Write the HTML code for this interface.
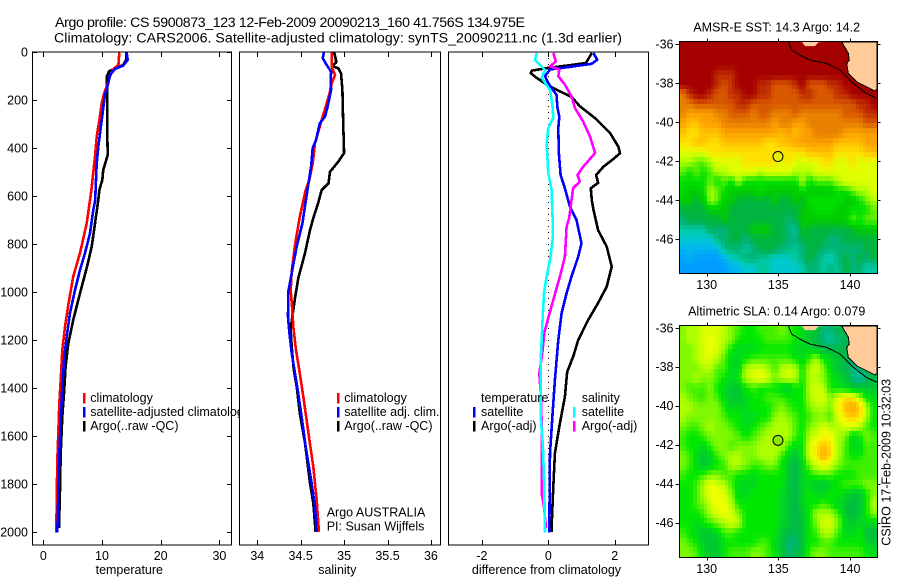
<!DOCTYPE html>
<html>
<head>
<meta charset="utf-8">
<title>Argo profile chart</title>
<style>
html,body{margin:0;padding:0;background:#fff;width:900px;height:580px;overflow:hidden}
svg{display:block}
text{font-family:"Liberation Sans",sans-serif;font-size:12.5px;fill:#000}
</style>
</head>
<body>
<svg id="chart" width="900" height="580" viewBox="0 0 900 580" xmlns="http://www.w3.org/2000/svg"></svg>
<script>
// ---- Tick labels ----
const depthTicks = [0,200,400,600,800,1000,1200,1400,1600,1800,2000];
const tempTicks = [0,10,20,30];
const salTicks = [34,34.5,35,35.5,36];
const salTickLabels = ['34','34.5','35','35.5','36'];
const diffTicks = [-2,0,2];
const lonTicks = [130,135,140];
const latTicks = [-36,-38,-40,-42,-44,-46];

// ---- Temperature panel ----
const tempClimDepth = [3,54,72,100,137,172,214,283,353,436,505,575,714,838,936,1054,1145,1242,1367,1463,1589,1700,1879,2002];
const tempClimValue = [12.95,12.8,11.9,11.4,10.9,10.35,9.95,9.55,9.1,8.8,8.5,8.2,7.4,6.25,5.1,4.26,3.7,3.24,2.96,2.73,2.56,2.39,2.28,2.22];
const tempSatDepth = [3,33,57,71,96,130,179,255,395,464,533,617,658,755,838,908,992,1088,1186,1269,1394,1519,1673,1840,2002];
const tempSatValue = [14.2,14.38,13.6,12.2,11.36,11.08,10.5,10.1,9.37,9.1,8.97,8.85,8.52,7.96,7.1,6.25,5.4,4.55,3.98,3.58,3.24,3.0,2.73,2.56,2.39];
const tempArgoDepth = [3,33,54,71,79,103,200,338,429,492,533,575,617,714,811,900,1005,1117,1214,1311,1422,1519,1673,1825,1983];
const tempArgoValue = [14.1,14.1,13.6,12.2,11.24,10.8,10.9,10.9,10.97,10.2,10.05,9.55,9.37,8.8,8.24,7.4,6.25,5.1,4.26,3.8,3.53,3.24,2.96,2.84,2.67];

// ---- Salinity panel ----
const salClimDepth = [1,61,96,130,165,214,283,380,464,533,575,686,804,914,992,1075,1145,1242,1325,1436,1589,1728,1867,1999];
const salClimValue = [34.857,34.857,34.895,34.857,34.838,34.8,34.742,34.665,34.638,34.6,34.558,34.49,34.434,34.396,34.385,34.403,34.415,34.446,34.484,34.53,34.59,34.645,34.684,34.71];
const salSatDepth = [0,26,54,82,124,158,228,269,297,367,400,478,547,617,714,811,908,999,1103,1171,1255,1339,1394,1519,1645,1783,1895,1999];
const salSatValue = [34.768,34.753,34.8,34.85,34.845,34.85,34.81,34.78,34.72,34.676,34.638,34.62,34.59,34.56,34.52,34.454,34.403,34.357,34.354,34.37,34.396,34.434,34.46,34.51,34.558,34.62,34.665,34.684];
const salArgoDepth = [0,33,45,58,68,88,158,297,421,457,499,547,575,630,692,742,838,942,1025,1103,1158,1228,1325,1394,1505,1630,1796,1880,1999];
const salArgoValue = [34.884,34.907,34.907,34.857,34.933,34.964,34.98,34.99,35.0,34.933,34.838,34.82,34.742,34.7,34.645,34.607,34.55,34.472,34.434,34.403,34.385,34.396,34.42,34.454,34.49,34.55,34.607,34.645,34.672];

// ---- Difference panel ----
const diffTempArgoDepth = [4,46,55,67,78,88,108,136,164,187,226,276,338,395,422,446,478,513,545,568,617,658,742,811,894,978,1046,1117,1200,1269,1332,1436,1561,1673,1811,1978,2000];
const diffTempArgoValue = [1.31,1.135,0.65,-0.05,-0.5,-0.53,-0.35,-0.05,0.35,0.7,0.95,1.41,1.86,2.11,2.16,1.96,1.66,1.44,1.5,1.28,1.31,1.36,1.5,1.76,1.91,1.76,1.5,1.2,0.9,0.75,0.57,0.5,0.33,0.2,0.15,0.1,0.1];
const diffTempSatDepth = [4,32,49,62,73,101,130,179,228,269,318,422,513,568,644,700,797,853,936,1005,1088,1200,1283,1367,1505,1673,2002];
const diffTempSatValue = [1.355,1.476,1.31,0.65,0.05,-0.1,0,0.25,0.27,0.33,0.3,0.32,0.37,0.5,0.65,0.85,1.0,0.9,0.7,0.55,0.4,0.3,0.25,0.2,0.13,0.05,0.03];
const diffSalArgoDepth = [4,39,60,73,101,136,185,233,290,353,421,478,513,540,567,617,692,728,853,936,1033,1108,1171,1255,1339,1436,1561,1700,1840,1895,1983];
const diffSalArgoValue = [0.15,0.23,0.05,0.33,0.3,0.5,0.7,0.8,1.05,1.26,1.41,1.05,0.88,0.95,0.75,0.7,0.63,0.55,0.5,0.35,0.15,0,-0.12,-0.18,-0.27,-0.22,-0.2,-0.2,-0.2,-0.13,-0.07];
const diffSalSatDepth = [4,33,75,108,158,228,275,317,380,505,575,692,783,867,936,1005,1103,1200,1283,1519,1630,1769,2002];
const diffSalSatValue = [-0.35,-0.4,-0.1,-0.2,0.05,0.13,0.15,0,-0.05,0,0.1,0.13,0.13,0.05,-0.05,-0.13,-0.17,-0.2,-0.23,-0.23,-0.17,-0.13,-0.1];

// ---- Map grids: one level code per cell (base 36), north to south ----
const sstGrid = [
"0000000000000000000000000000",
"0000000000000000000000000000",
"0000000000000000000000000000",
"0000011100000000000000000000",
"0000012100011222102221100000",
"3100122110011222211222110000",
"3322222211222222222222222110",
"3444433222322333233333322211",
"4554443333333433443333333322",
"5665554444444454544333344444",
"6655665555556655444444555544",
"7777666666666666665555666655",
"8899877776666676777766776777",
"9A9A988777787777888777777777",
"AAAA9A9A8AAAAAAAA8A999877777",
"ABBA89ABBBBABBBBBABBBBAA9887",
"BBCB89BBCCCCCBCCBCAAAAABBA98",
"CCCCBBBCCCCCCCCCCBBAAABBAAA9",
"DCCCCCBCCCCCCCCDCBBBBBBB9A99",
"EEEECDDCCCBBBCCDEBCCCCCCCBBB",
"FFFFFDDCCDCCCCCDDCCCCDDCCCCC",
"GGGGGGDDDEDCCCDDEDCCDDDDDDCC",
"HGHHHHGFEDDEEFFFEDCDEFDCDCDC",
"HHHHHHHGGFFEEFFFFEDDEDECDDEE"
];
const slaGrid = [
"7889998765566676543311222222",
"7889A98755556666543210122222",
"7789A97544455555444322222222",
"7789986445666666546854321122",
"7778866448998689858974321123",
"77877654589A9789858875431012",
"7666754335655543558985543333",
"87667643345566655589979BB854",
"8877775444555676557887ACDC85",
"87777765544557876567769BCB85",
"7667877654567888657898899865",
"65567777656788886589AA874576",
"6554677677788886459BCB864466",
"7643467887788864359BDB865566",
"76434568876677532479A9766666",
"6556776655455553245666555666",
"5568A98644455553244334566677",
"5568AA9744555543245445543357",
"55679AA855555543245565432358",
"555689A975555543235888632357",
"5545678985555543235799743444",
"6543346655555532235688644532",
"7653335555566431135566555543",
"7764335666776531236776666654"
];
const sstPalette = ['#a50000','#bf2c00','#d85800','#e88000','#fca000','#ffc000','#ffe000','#e0ff00','#b0ff00','#60f000','#00e000','#00cc00','#00b440','#00b478','#00c8a0','#00c8d0','#00b4f0','#009cff'];
const slaPalette = ['#00c8a0','#00b878','#00b84c','#00c830','#00d820','#00e800','#40f000','#80f800','#b0ff00','#d8ff00','#f0ff00','#ffe000','#ffc000','#ffa800'];

// ---- Coastline (lon, lat) ----
const landLon = [139.42,139.88,139.95,139.77,139.88,140.47,141.4,141.74,141.9,141.9];
const landLat = [-35.87,-36.46,-36.81,-36.98,-37.5,-37.93,-38.27,-38.4,-38.27,-35.87];
const islandLon = [136.63,136.86,137.56,137.8,138.26];
const islandLat = [-35.87,-36.09,-36.09,-35.9,-35.87];
const coastLon = [135.7,135.93,136.5,137.2,138.37,139.3,140.23,141.16,141.9];
const coastLat = [-35.87,-36.3,-36.55,-36.81,-36.98,-37.32,-38.0,-38.53,-38.78];
const argoLon = 134.975;
const argoLat = -41.756;

const NS = 'http://www.w3.org/2000/svg';
const svg = document.getElementById('chart');
function mk(tag, attrs, parent) {
  const el = document.createElementNS(NS, tag);
  for (const k in attrs) el.setAttribute(k, attrs[k]);
  (parent || svg).appendChild(el);
  return el;
}
function label(str, x, y, anchor, parent, extra) {
  const el = mk('text', Object.assign({x: x, y: y, 'text-anchor': anchor || 'start'}, extra || {}), parent);
  el.textContent = str;
  return el;
}

// ---- Axis functions ----
const depthY = d => 52 + d * 0.24;
const tempX = v => 43.3 + v * 5.87;
const salX = v => 257.3 + (v - 34) * 86.8;
const diffX = v => 548.3 + v * 33.2;
const lonX = v => 706.7 + (v - 130) * 14.33;
const lat1Y = v => 44.3 + (-36 - v) * 19.5;
const lat2Y = v => 328.3 + (-36 - v) * 19.47;

// ---- Title ----
let t = label('Argo profile: CS 5900873_123 12-Feb-2009 20090213_160 41.756S 134.975E', 55, 27, 'start', svg, {textLength: 470, lengthAdjust: 'spacing', style: 'font-size:14.2px'});


t = label('Climatology: CARS2006. Satellite-adjusted climatology: synTS_20090211.nc (1.3d earlier)', 54, 42.5, 'start', svg, {textLength: 568, lengthAdjust: 'spacing', style: 'font-size:14.2px'});



// ---- Profile panels ----
function series(g, depths, values, xf, color, name) {
  const pts = depths.map((d, i) => xf(values[i]).toFixed(1) + ',' + depthY(d).toFixed(1)).join(' ');
  const el = mk('polyline', {points: pts, fill: 'none', stroke: color, 'stroke-width': 2.6, 'shape-rendering': 'crispEdges', 'stroke-linejoin': 'round'}, g);
  
  
}
function panelFrame(g, x0, x1, ticks, xf, labels, title, titleX, withY) {
  const y0 = 52, y1 = 545;
  const bg = mk('rect', {x: x0, y: y0, width: x1 - x0, height: y1 - y0, fill: '#fff'}, g);
  
  
  ticks.forEach((v, i) => {
    const x = Math.round(xf(v)) + 0.5;
    const top = mk('line', {x1: x, x2: x, y1: y0, y2: y0 + 5, stroke: '#000'}, g);
    
    
    const bot = mk('line', {x1: x, x2: x, y1: y1, y2: y1 - 5, stroke: '#000'}, g);
    
    
    const tl = label(labels[i], xf(v), 560, 'middle', g);
    
    
  });
  if (withY) {
    depthTicks.forEach(d => {
      const y = Math.round(depthY(d)) + 0.5;
      const a = mk('line', {x1: x0, x2: x0 + 4.5, y1: y, y2: y, stroke: '#000'}, g);
      
      
      const b = mk('line', {x1: x1, x2: x1 - 4.5, y1: y, y2: y, stroke: '#000'}, g);
      
      
      const yl = label(String(d), 28, depthY(d) + 4.5, 'end', g);
      
      
    });
  }
  const tt = label(title, titleX, 574, 'middle', g);
  
  
}
function panelBox(g, x0, x1) {
  const box = mk('rect', {x: x0, y: 52, width: x1 - x0, height: 493, fill: 'none', stroke: '#000', 'stroke-width': 1}, g);
  
  
}
function legendRow(g, barX, textX, baseline, color, str, name) {
  const bar = mk('rect', {x: barX - 1, y: baseline - 9, width: 2.4, height: 10.5, fill: color, 'shape-rendering': 'crispEdges'}, g);
  
  
  const tx = label(str, textX, baseline, 'start', g);
  
  
}

// Panel 1
const p1 = mk('g', {});


panelFrame(p1, 32.5, 231.5, tempTicks, tempX, tempTicks.map(String), 'temperature', 129.3, true);
series(p1, tempArgoDepth, tempArgoValue, tempX, '#000', 'temperature-argo-line');
series(p1, tempClimDepth, tempClimValue, tempX, '#f00', 'temperature-climatology-line');
series(p1, tempSatDepth, tempSatValue, tempX, '#00f', 'temperature-satellite-line');
panelBox(p1, 32.5, 231.5);
legendRow(p1, 84, 90.3, 402, '#f00', 'climatology', 'temperature-legend-climatology');
legendRow(p1, 84, 90.3, 416, '#00f', 'satellite-adjusted climatology', 'temperature-legend-satellite');
legendRow(p1, 84, 90.3, 430, '#000', 'Argo(..raw -QC)', 'temperature-legend-argo');

// Panel 2
const p2 = mk('g', {});


panelFrame(p2, 239.5, 440.5, salTicks, salX, salTickLabels, 'salinity', 337.3, false);
series(p2, salArgoDepth, salArgoValue, salX, '#000', 'salinity-argo-line');
series(p2, salClimDepth, salClimValue, salX, '#f00', 'salinity-climatology-line');
series(p2, salSatDepth, salSatValue, salX, '#00f', 'salinity-satellite-line');
panelBox(p2, 239.5, 440.5);
legendRow(p2, 338, 344.3, 402, '#f00', 'climatology', 'salinity-legend-climatology');
legendRow(p2, 338, 344.3, 416, '#00f', 'satellite adj. clim.', 'salinity-legend-satellite');
legendRow(p2, 338, 344.3, 430, '#000', 'Argo(..raw -QC)', 'salinity-legend-argo');
t = label('Argo AUSTRALIA', 326.7, 516.7, 'start', p2);


t = label('PI: Susan Wijffels', 326.7, 530.7, 'start', p2);



// Panel 3
const p3 = mk('g', {});


panelFrame(p3, 448.5, 648.5, diffTicks, diffX, diffTicks.map(String), 'difference from climatology', 546.5, false);
const zero = mk('line', {x1: diffX(0), x2: diffX(0), y1: depthY(0), y2: depthY(2000), stroke: '#000', 'stroke-width': 1, 'stroke-dasharray': '1 5', 'shape-rendering': 'crispEdges'}, p3);


series(p3, diffTempArgoDepth, diffTempArgoValue, diffX, '#000', 'difference-temperature-argo-line');
series(p3, diffTempSatDepth, diffTempSatValue, diffX, '#00f', 'difference-temperature-satellite-line');
series(p3, diffSalArgoDepth, diffSalArgoValue, diffX, '#f0f', 'difference-salinity-argo-line');
series(p3, diffSalSatDepth, diffSalSatValue, diffX, '#0ff', 'difference-salinity-satellite-line');
panelBox(p3, 448.5, 648.5);
t = label('temperature', 481, 402, 'start', p3);


t = label('salinity', 581.7, 402, 'start', p3);


legendRow(p3, 474, 481, 416, '#00f', 'satellite', 'difference-legend-temperature-satellite');
legendRow(p3, 474, 481, 430, '#000', 'Argo(-adj)', 'difference-legend-temperature-argo');
legendRow(p3, 574, 581.7, 416, '#0ff', 'satellite', 'difference-legend-salinity-satellite');
legendRow(p3, 574, 581.7, 430, '#f0f', 'Argo(-adj)', 'difference-legend-salinity-argo');

// ---- Maps ----
function hexRgb(h) {
  return [parseInt(h.substr(1, 2), 16), parseInt(h.substr(3, 2), 16), parseInt(h.substr(5, 2), 16)];
}
function colorAt(palette, v) {
  const i = Math.max(0, Math.min(palette.length - 1.001, v));
  const f = i - Math.floor(i);
  const a = hexRgb(palette[Math.floor(i)]);
  const b = hexRgb(palette[Math.floor(i) + 1]);
  return 'rgb(' + a.map((x, k) => Math.round(x + (b[k] - x) * f)).join(',') + ')';
}
function drawMap(name, grid, palette, latY, top, bottom, title, titleY, lonLabelY, circleFill) {
  const g = mk('g', {});
  
  
  const left = 679.5, right = 877.5;
  const levels = grid.map(row => Array.from(row).map(ch => parseInt(ch, 36)));
  const rows = levels.length, cols = levels[0].length;
  const sub = 2; // each grid value is displayed as sub x sub smoothed pixels
  const lonAt = c => 128.09 + c * (141.91 - 128.09) / (cols * sub);
  const latTop = -36 - (top - latY(-36)) / (latY(-37) - latY(-36));
  const latBot = -36 - (bottom - latY(-36)) / (latY(-37) - latY(-36));
  const latAt = r => latTop + r * (latBot - latTop) / (rows * sub);
  const clampIdx = (i, n) => Math.max(0, Math.min(n - 1, i));
  function sample(r, c) {
    const fr = (r + 0.5) / sub - 0.5, fc = (c + 0.5) / sub - 0.5;
    const r0 = Math.floor(fr), c0 = Math.floor(fc);
    const dr = fr - r0, dc = fc - c0;
    const v = (i, j) => levels[clampIdx(i, rows)][clampIdx(j, cols)];
    return (v(r0, c0) * (1 - dc) + v(r0, c0 + 1) * dc) * (1 - dr) + (v(r0 + 1, c0) * (1 - dc) + v(r0 + 1, c0 + 1) * dc) * dr;
  }
  for (let r = 0; r < rows * sub; r++) {
    for (let c = 0; c < cols * sub; c++) {
      const x = Math.floor(lonX(lonAt(c)));
      const y = Math.floor(latY(latAt(r)));
      const cell = mk('rect', {x: x, y: y, width: Math.ceil(lonX(lonAt(c + 1))) - x, height: Math.ceil(latY(latAt(r + 1))) - y, fill: colorAt(palette, sample(r, c)), 'shape-rendering': 'crispEdges'}, g);
      
      
    }
  }
  const poly = (lons, lats) => lons.map((v, i) => lonX(v).toFixed(1) + ',' + latY(lats[i]).toFixed(1)).join(' ');
  const land = mk('polygon', {points: poly(landLon, landLat), fill: '#ffcc99', stroke: '#000', 'stroke-width': 1, 'shape-rendering': 'crispEdges'}, g);
  
  
  const island = mk('polygon', {points: poly(islandLon, islandLat), fill: '#ffcc99'}, g);
  
  
  const coast = mk('polyline', {points: poly(coastLon, coastLat), fill: 'none', stroke: '#000', 'stroke-width': 1, 'shape-rendering': 'crispEdges'}, g);
  
  
  const box = mk('rect', {x: left, y: top, width: right - left, height: bottom - top, fill: 'none', stroke: '#000'}, g);
  
  
  const ring = mk('circle', {cx: lonX(argoLon), cy: latY(argoLat), r: 5, fill: circleFill, stroke: '#000', 'stroke-width': 1}, g);
  
  
  lonTicks.forEach(v => {
    const x = Math.round(lonX(v)) + 0.5;
    const a = mk('line', {x1: x, x2: x, y1: top, y2: top - 3, stroke: '#000'}, g);
    
    
    const b = mk('line', {x1: x, x2: x, y1: bottom, y2: bottom + 3, stroke: '#000'}, g);
    
    
    const tl = label(String(v), lonX(v), lonLabelY, 'middle', g);
    
    
  });
  latTicks.forEach(v => {
    const y = Math.round(latY(v)) + 0.5;
    const a = mk('line', {x1: left, x2: left - 4, y1: y, y2: y, stroke: '#000'}, g);
    
    
    const b = mk('line', {x1: right, x2: right + 3, y1: y, y2: y, stroke: '#000'}, g);
    
    
    const tl = label(String(v), 673.5, latY(v) + 4, 'end', g);
    
    
  });
  const mt = label(title, 776.7, titleY, 'middle', g);
  
  
}
drawMap('sst-map', sstGrid, sstPalette, lat1Y, 41.5, 273.5, 'AMSR-E SST: 14.3 Argo: 14.2', 31.7, 289, '#e8f000');
drawMap('sla-map', slaGrid, slaPalette, lat2Y, 325.5, 557.5, 'Altimetric SLA: 0.14 Argo: 0.079', 315.7, 573, '#8fe800');

t = label('CSIRO 17-Feb-2009 10:32:03', 0, 0, 'start', svg, {transform: 'translate(890.7 545.7) rotate(-90)'});


</script>
</body>
</html>
